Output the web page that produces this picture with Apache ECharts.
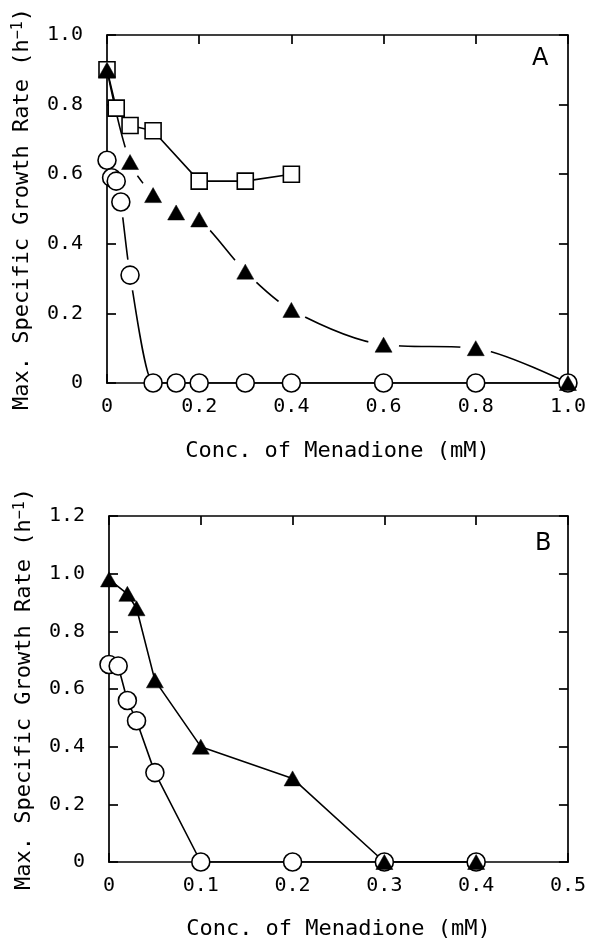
<!DOCTYPE html>
<html>
<head>
<meta charset="utf-8">
<script src="https://cdn.jsdelivr.net/npm/echarts@6/dist/echarts.min.js"></script>
<style>
html,body{margin:0;padding:0;background:#fff;}
#chart{width:589px;height:941px;}
</style>
</head>
<body>
<div id="chart"></div>
<script>
// ---- Panel A data ----
var circlesA_x = [0, 0.01, 0.02, 0.03, 0.05, 0.1, 0.15, 0.2, 0.3, 0.4, 0.6, 0.8, 1.0];
var circlesA_y = [0.64, 0.59, 0.58, 0.52, 0.31, 0, 0, 0, 0, 0, 0, 0, 0];
var trianglesA_x = [0, 0.05, 0.1, 0.15, 0.2, 0.3, 0.4, 0.6, 0.8, 1.0];
var trianglesA_y = [0.90, 0.635, 0.54, 0.49, 0.47, 0.32, 0.21, 0.11, 0.10, 0];
var squaresA_x = [0, 0.02, 0.05, 0.1, 0.2, 0.3, 0.4];
var squaresA_y = [0.90, 0.79, 0.74, 0.725, 0.58, 0.58, 0.60];
// ---- Panel B data ----
var circlesB_x = [0, 0.01, 0.02, 0.03, 0.05, 0.1, 0.2, 0.3, 0.4];
var circlesB_y = [0.685, 0.68, 0.56, 0.49, 0.31, 0, 0, 0, 0];
var trianglesB_x = [0, 0.02, 0.03, 0.05, 0.1, 0.2, 0.3, 0.4];
var trianglesB_y = [0.98, 0.93, 0.88, 0.63, 0.40, 0.29, 0, 0];
// ---- Tick labels ----
var xTicksA = ['0', '0.2', '0.4', '0.6', '0.8', '1.0'];
var yTicksA = ['0', '0.2', '0.4', '0.6', '0.8', '1.0'];
var xTicksB = ['0', '0.1', '0.2', '0.3', '0.4', '0.5'];
var yTicksB = ['0', '0.2', '0.4', '0.6', '0.8', '1.0', '1.2'];
var xName = 'Conc. of Menadione (mM)';
var yName = 'Max. Specific Growth Rate (h{sup|\u22121})';
var panelLabels = ['A', 'B'];

function pairs(xs, ys) { return xs.map(function (x, i) { return [x, ys[i]]; }); }
function haloPts(xs, ys) { return pairs(xs, ys).filter(function (p) { return p[0] > 0 && p[1] > 0; }); }

var MONO = '"DejaVu Sans Mono", monospace';
var axisLine = { show: true, onZero: false, lineStyle: { color: '#000', width: 1.7 } };
var tick = { show: true, inside: true, length: 9, lineStyle: { color: '#000', width: 1.7 } };

function lookup(labels, interval) {
  return function (v) { var i = Math.round(v / interval); return labels[i] !== undefined ? labels[i] : ''; };
}

function xAxes(grid, max, interval, labels, nameGap) {
  return [{
    type: 'value', gridIndex: grid, position: 'bottom', min: 0, max: max, interval: interval, z: 4,
    axisLine: axisLine, axisTick: tick, splitLine: { show: false },
    axisLabel: { color: '#000', fontFamily: MONO, fontSize: 20, margin: 14, formatter: lookup(labels, interval) },
    name: xName, nameLocation: 'middle', nameGap: nameGap,
    nameTextStyle: { color: '#000', fontFamily: MONO, fontSize: 22 }
  }, {
    type: 'value', gridIndex: grid, position: 'top', min: 0, max: max, interval: interval, z: 4,
    axisLine: axisLine, axisTick: tick, splitLine: { show: false }, axisLabel: { show: false }
  }];
}
function yAxes(grid, max, interval, labels, nameGap) {
  return [{
    type: 'value', gridIndex: grid, position: 'left', min: 0, max: max, interval: interval, z: 4,
    axisLine: axisLine, axisTick: tick, splitLine: { show: false },
    axisLabel: { color: '#000', fontFamily: MONO, fontSize: 20, margin: 24, formatter: lookup(labels, interval) },
    name: yName, nameLocation: 'middle', nameGap: nameGap, nameRotate: 90,
    nameTextStyle: { color: '#000', fontFamily: MONO, fontSize: 22,
      rich: { sup: { fontFamily: MONO, fontSize: 15, color: '#000', verticalAlign: 'top', lineHeight: 15, padding: [0, 0, 10, 0] } } }
  }, {
    type: 'value', gridIndex: grid, position: 'right', min: 0, max: max, interval: interval, z: 4,
    axisLine: axisLine, axisTick: tick, splitLine: { show: false }, axisLabel: { show: false }
  }];
}

function lineS(xi, yi, data, smooth) {
  return { type: 'line', xAxisIndex: xi, yAxisIndex: yi, data: data, showSymbol: false, symbol: 'none',
    smooth: smooth, lineStyle: { color: '#000', width: 1.6 }, z: 2, silent: true };
}
function haloS(xi, yi, data) {
  return { type: 'scatter', xAxisIndex: xi, yAxisIndex: yi, data: data, symbol: 'circle', symbolSize: 31,
    itemStyle: { color: '#fff', borderWidth: 0, opacity: 1 }, z: 3, silent: true };
}
function markS(xi, yi, data, kind) {
  var s = { type: 'scatter', xAxisIndex: xi, yAxisIndex: yi, data: data, z: 5, silent: true };
  if (kind === 'circle') { s.symbol = 'circle'; s.symbolSize = 18; s.itemStyle = { color: '#fff', borderColor: '#000', borderWidth: 1.6, opacity: 1 }; }
  if (kind === 'square') { s.symbol = 'rect'; s.symbolSize = 16; s.itemStyle = { color: '#fff', borderColor: '#000', borderWidth: 1.6, opacity: 1 }; }
  if (kind === 'triangle') { s.symbol = 'triangle'; s.symbolSize = [17, 15]; s.z = 6; s.itemStyle = { color: '#000', borderColor: '#000', borderWidth: 0.5, opacity: 1 }; }
  return s;
}

var cA = pairs(circlesA_x, circlesA_y), tA = pairs(trianglesA_x, trianglesA_y), sA = pairs(squaresA_x, squaresA_y);
var cB = pairs(circlesB_x, circlesB_y), tB = pairs(trianglesB_x, trianglesB_y);

var option = {
  animation: false,
  backgroundColor: '#fff',
  grid: [
    { left: 107, top: 35, width: 462, height: 348 },
    { left: 109, top: 516, width: 462, height: 349 }
  ],
  xAxis: xAxes(0, 1.0, 0.2, xTicksA, 57).concat(xAxes(1, 0.5, 0.1, xTicksB, 56)),
  yAxis: yAxes(0, 1.0, 0.2, yTicksA, 64).concat(yAxes(1, 1.2, 0.2, yTicksB, 66)),
  graphic: [
    { type: 'text', left: 532, top: 47, style: { text: panelLabels[0], font: '24px "DejaVu Sans"', fill: '#000' } },
    { type: 'text', left: 535, top: 532, style: { text: panelLabels[1], font: '24px "DejaVu Sans"', fill: '#000' } }
  ],
  series: [
    // Panel A
    lineS(0, 0, cA, 0.2),
    lineS(0, 0, tA, 0.3),
    lineS(0, 0, sA, false),
    haloS(0, 0, haloPts(circlesA_x, circlesA_y)),
    haloS(0, 0, haloPts(trianglesA_x, trianglesA_y)),
    markS(0, 0, sA, 'square'),
    markS(0, 0, cA, 'circle'),
    markS(0, 0, tA, 'triangle'),
    // Panel B
    lineS(2, 2, cB, false),
    lineS(2, 2, tB, false),
    markS(2, 2, cB, 'circle'),
    markS(2, 2, tB, 'triangle')
  ]
};

var chart = echarts.init(document.getElementById('chart'), null, { renderer: 'canvas' });
chart.setOption(option);
</script>
</body>
</html>
